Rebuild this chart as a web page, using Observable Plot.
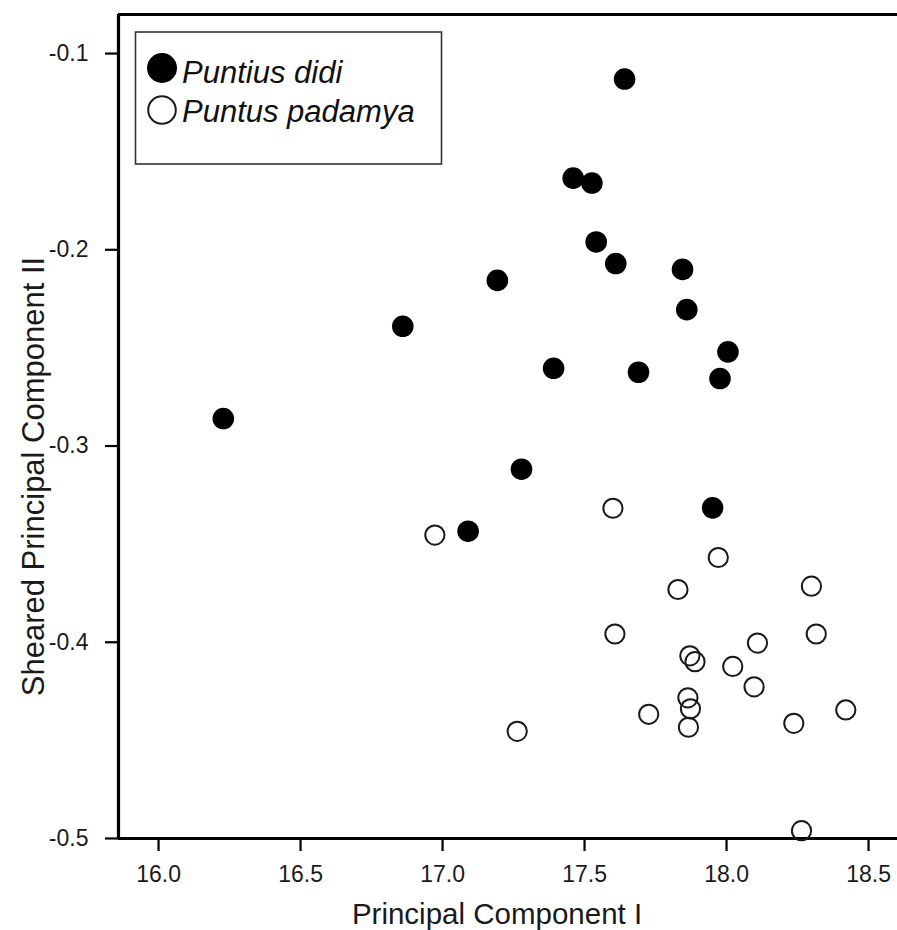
<!DOCTYPE html>
<html>
<head>
<meta charset="utf-8">
<script src="https://cdn.jsdelivr.net/npm/d3@7"></script>
<script src="https://cdn.jsdelivr.net/npm/@observablehq/plot@0.6"></script>
<style>
  html, body { margin: 0; padding: 0; background: #fff; }
  #wrap { position: relative; width: 897px; height: 930px; overflow: hidden; }
  #legend { position: absolute; left: 0; top: 0; }
</style>
</head>
<body>
<div id="wrap"></div>
<script>
// ---- data ----
const seriesNames = ["Puntius didi", "Puntus padamya"];

const didiX = [17.641, 17.460, 17.526, 17.541, 17.610, 17.193, 17.845, 17.860, 18.005,
               17.977, 17.690, 17.391, 16.860, 16.228, 17.278, 17.090, 17.951];
const didiY = [-0.113, -0.1635, -0.166, -0.196, -0.207, -0.2156, -0.210, -0.2305, -0.252,
               -0.2656, -0.2624, -0.2604, -0.239, -0.286, -0.3118, -0.3434, -0.3315];

const padX = [17.600, 16.973, 17.971, 17.829, 18.299, 17.607, 18.316, 18.109, 17.871, 17.889,
              18.022, 18.097, 17.864, 17.873, 17.726, 18.420, 18.237, 17.866, 17.263, 18.264];
const padY = [-0.3317, -0.3454, -0.3568, -0.3731, -0.3714, -0.3958, -0.3958, -0.4004, -0.4069, -0.4099,
              -0.4123, -0.4227, -0.4283, -0.4339, -0.4367, -0.4345, -0.4413, -0.4433, -0.4454, -0.4960];

const xTicks = [16.0, 16.5, 17.0, 17.5, 18.0, 18.5];
const yTicks = [-0.1, -0.2, -0.3, -0.4, -0.5];
const xDomain = [15.859, 18.602];
const yDomain = [-0.5, -0.0801];
const xLabel = "Principal Component I";
const yLabel = "Sheared Principal Component II";

// ---- build tables ----
const didi = didiX.map((x, i) => ({x, y: didiY[i]}));
const padamya = padX.map((x, i) => ({x, y: padY[i]}));

const fmt = d => d.toFixed(1);
const FONT = "'Liberation Sans', Arial, Helvetica, sans-serif";

const chart = Plot.plot({
  width: 897,
  height: 930,
  marginLeft: 118,
  marginRight: 0,
  marginTop: 14,
  marginBottom: 92,
  x: {domain: xDomain},
  y: {domain: yDomain},
  style: {fontFamily: FONT, fontSize: "23px", background: "white", color: "black", overflow: "visible"},
  marks: [
    Plot.axisX({ticks: xTicks, tickFormat: fmt, tickSize: 13, tickPadding: 14, strokeWidth: 2.2, fontSize: 23, fill: "#1a1a1a", label: null}),
    Plot.axisY({ticks: yTicks, tickFormat: fmt, tickSize: 13, tickPadding: 17, strokeWidth: 2.2, fontSize: 23, fill: "#1a1a1a", label: null}),
    Plot.ruleX([xDomain[0]], {stroke: "black", strokeWidth: 3.2}),
    Plot.ruleY([yDomain[1]], {stroke: "black", strokeWidth: 3.2}),
    Plot.ruleY([yDomain[0]], {stroke: "black", strokeWidth: 3.2}),
    Plot.dot(padamya, {x: "x", y: "y", r: 9.6, stroke: "#1a1a1a", strokeWidth: 2, fill: "none"}),
    Plot.dot(didi, {x: "x", y: "y", r: 10.8, fill: "black", stroke: "none"}),
    Plot.text([xLabel], {frameAnchor: "bottom", textAnchor: "middle", dx: -11, dy: 85, fontSize: 29.5, lineAnchor: "bottom", fill: "#1a1a1a"}),
    Plot.text([yLabel], {frameAnchor: "left", textAnchor: "middle", rotate: -90, dx: -75, dy: 50, fontSize: 31, lineAnchor: "bottom", fill: "#1a1a1a"})
  ]
});

const wrap = document.getElementById("wrap");
wrap.appendChild(chart);

// ---- legend (HTML overlay, SVG) ----
const ns = "http://www.w3.org/2000/svg";
const lg = document.createElementNS(ns, "svg");
lg.setAttribute("id", "legend");
lg.setAttribute("width", 897);
lg.setAttribute("height", 200);
lg.style.fontFamily = FONT;
const box = document.createElementNS(ns, "rect");
box.setAttribute("x", 135.5); box.setAttribute("y", 32);
box.setAttribute("width", 306); box.setAttribute("height", 132);
box.setAttribute("fill", "white"); box.setAttribute("stroke", "#333"); box.setAttribute("stroke-width", 1.6);
lg.appendChild(box);
const rows = [
  {name: seriesNames[0], cy: 68, base: 83, filled: true},
  {name: seriesNames[1], cy: 110, base: 122, filled: false}
];
rows.forEach(r => {
  const c = document.createElementNS(ns, "circle");
  c.setAttribute("cx", 162); c.setAttribute("cy", r.cy);
  if (r.filled) { c.setAttribute("r", 15); c.setAttribute("fill", "black"); }
  else { c.setAttribute("r", 13.8); c.setAttribute("fill", "none"); c.setAttribute("stroke", "#1a1a1a"); c.setAttribute("stroke-width", 2); }
  lg.appendChild(c);
  const t = document.createElementNS(ns, "text");
  t.setAttribute("x", 182); t.setAttribute("y", r.base);
  t.setAttribute("font-size", 31); t.setAttribute("font-style", "italic");
  t.setAttribute("fill", "#111");
  t.textContent = r.name;
  lg.appendChild(t);
});
wrap.appendChild(lg);
</script>
</body>
</html>
